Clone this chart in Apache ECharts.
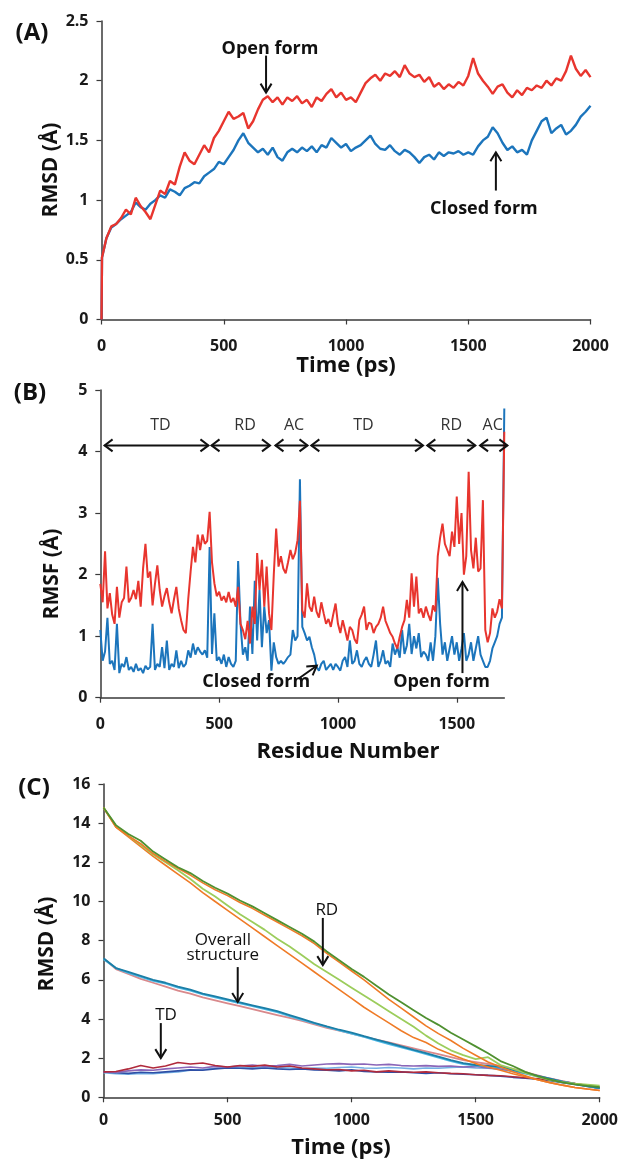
<!DOCTYPE html>
<html><head><meta charset="utf-8">
<script src="https://cdn.jsdelivr.net/npm/echarts@6/dist/echarts.min.js"></script>
<style>html,body{margin:0;padding:0;background:#fff}#c{width:621px;height:1163px}</style>
</head><body><div id="c"></div>
<script>
// ---------- Panel A: backbone RMSD vs time ----------
const timeA = [0, 2];
for (let t = 20; t <= 2000; t += 20) timeA.push(t);
const openA = [0, 0.52,
  0.68,0.78,0.80,0.85,0.92,0.88,1.02,0.95,0.90,0.84,
  0.96,1.08,1.05,1.16,1.13,1.28,1.40,1.33,1.30,1.38,
  1.46,1.40,1.52,1.58,1.66,1.74,1.68,1.70,1.73,1.60,
  1.66,1.76,1.84,1.87,1.82,1.86,1.80,1.86,1.83,1.87,
  1.81,1.84,1.78,1.86,1.83,1.89,1.93,1.86,1.90,1.84,
  1.86,1.82,1.90,1.98,2.02,2.05,2.00,2.06,2.04,2.08,
  2.03,2.13,2.06,2.03,2.05,1.99,2.03,1.95,1.98,1.93,
  1.97,1.94,1.99,1.96,2.04,2.19,2.06,2.00,1.95,1.89,
  1.95,1.97,1.90,1.86,1.92,1.88,1.94,1.92,1.96,1.94,
  2.00,1.96,2.02,2.00,2.08,2.21,2.10,2.04,2.09,2.03];
const closedA = [0, 0.52,
  0.68,0.77,0.80,0.84,0.87,0.90,0.98,0.94,0.92,0.97,
  1.00,1.04,1.02,1.09,1.07,1.04,1.10,1.12,1.15,1.14,
  1.20,1.23,1.26,1.32,1.30,1.36,1.42,1.50,1.56,1.48,
  1.44,1.40,1.43,1.38,1.44,1.36,1.33,1.40,1.43,1.40,
  1.44,1.41,1.45,1.40,1.46,1.44,1.52,1.48,1.44,1.47,
  1.41,1.44,1.46,1.50,1.54,1.47,1.43,1.42,1.46,1.41,
  1.38,1.42,1.40,1.36,1.31,1.36,1.38,1.34,1.40,1.37,
  1.40,1.39,1.41,1.38,1.40,1.38,1.45,1.50,1.53,1.61,
  1.56,1.48,1.42,1.45,1.40,1.42,1.38,1.50,1.58,1.66,
  1.69,1.56,1.60,1.63,1.55,1.58,1.63,1.70,1.74,1.79];

// ---------- Panel B: RMSF per residue ----------
const residues = [];
for (let r = 0; r <= 1700; r += 10) residues.push(r);
const openB = [
  1.85,1.55,2.38,1.45,1.70,1.35,1.20,1.80,1.30,1.55,
  1.62,2.13,1.55,1.62,1.75,1.60,1.90,1.48,2.10,2.50,
  1.95,2.05,1.50,1.85,2.15,1.75,1.48,1.65,1.78,1.55,
  1.37,1.60,1.80,1.45,1.26,1.10,1.05,1.60,2.05,2.45,
  2.20,2.65,2.40,2.65,2.50,2.55,3.02,2.20,1.86,1.65,
  1.72,1.58,1.65,1.55,1.72,1.55,1.62,1.48,1.80,1.20,
  1.10,0.95,1.25,0.88,1.48,1.20,2.35,1.75,2.24,1.48,
  2.13,1.37,1.10,2.00,2.75,2.13,2.30,2.10,2.02,2.20,
  2.40,2.25,2.35,2.56,3.20,1.42,1.30,1.86,1.48,1.40,
  1.64,1.40,1.30,1.55,1.37,1.20,1.28,1.15,1.35,1.53,
  1.20,1.05,1.26,1.10,0.93,1.15,1.10,0.95,0.88,1.26,
  1.35,1.48,1.10,1.22,1.20,1.05,1.15,1.20,1.30,1.48,
  1.25,1.15,1.05,0.99,0.88,0.80,0.99,1.15,1.26,1.59,
  1.30,2.02,1.48,1.97,1.37,1.45,1.30,1.48,1.35,1.25,
  1.50,1.40,2.30,2.60,2.83,2.50,2.40,2.30,2.70,2.45,
  3.27,2.50,3.00,2.00,2.30,3.67,2.40,2.10,2.60,2.05,
  2.10,3.21,1.10,0.90,1.05,1.45,1.30,1.40,1.60,1.45,
  4.32];
const closedB = [
  1.10,0.60,0.75,1.30,0.55,0.60,0.45,1.20,0.40,0.55,
  0.50,0.66,0.45,0.50,0.42,0.55,0.44,0.48,0.40,0.52,
  0.46,0.50,1.20,0.45,0.55,0.50,0.82,0.48,0.93,0.45,
  0.55,0.50,0.77,0.48,0.60,0.50,0.55,0.77,0.65,0.88,
  0.70,0.82,0.75,0.70,0.77,0.65,2.45,0.71,1.37,0.60,
  0.66,0.55,0.70,0.50,0.66,0.55,0.50,0.60,2.22,1.20,
  0.70,0.82,0.60,1.48,0.71,1.90,0.93,1.75,0.82,1.48,
  1.05,1.26,0.44,0.90,0.66,0.55,0.60,0.55,0.60,0.66,
  0.70,1.10,0.93,1.00,3.55,1.15,1.05,0.93,0.99,0.82,
  0.70,0.50,0.44,0.55,0.60,0.45,0.50,0.55,0.45,0.55,
  0.50,0.44,0.60,0.66,0.50,0.93,0.55,0.60,0.77,0.55,
  0.50,0.60,0.66,0.55,0.50,0.70,0.93,0.50,0.60,0.77,
  0.55,0.60,0.50,0.88,0.70,0.82,0.65,1.10,0.71,0.85,
  1.20,0.71,1.00,0.80,1.05,0.66,0.75,0.70,0.60,0.90,
  0.60,1.00,1.95,1.20,0.70,0.90,0.60,0.80,1.00,0.70,
  0.90,0.60,0.80,1.05,0.60,0.70,0.90,0.60,0.80,1.00,
  0.70,0.60,0.50,0.50,0.60,0.80,0.90,1.00,1.20,1.30,
  4.70];
const domainSpans = [[18,455],[468,714],[737,872],[888,1358],[1376,1578],[1598,1713]];
const domainNames = ['TD','RD','AC','TD','RD','AC'];
const domainLabelX = [253,609,815,1107,1477,1651];

// ---------- Panel C: targeted MD RMSD vs time ----------
const timeC = [];
for (let t = 0; t <= 2000; t += 50) timeC.push(t);
const rdDarkGreen = [14.8,13.9,13.45,13.1,12.55,12.15,11.75,11.45,11.05,10.7,
  10.4,10.05,9.75,9.4,9.05,8.7,8.35,7.95,7.45,7.0,
  6.55,6.15,5.7,5.25,4.85,4.45,4.05,3.7,3.3,2.95,
  2.6,2.25,1.85,1.6,1.3,1.08,0.9,0.76,0.66,0.58,0.52];
const rdOrangeUpper = [14.8,13.8,13.35,12.95,12.45,12.05,11.7,11.35,10.95,10.6,
  10.3,9.95,9.65,9.3,8.95,8.6,8.25,7.85,7.35,6.9,
  6.45,6.0,5.5,5.0,4.55,4.1,3.65,3.25,2.9,2.5,
  2.15,1.8,1.55,1.3,1.1,0.9,0.75,0.62,0.5,0.42,0.35];
const rdLightGreen = [14.8,13.85,13.35,12.9,12.4,12.0,11.6,11.15,10.65,10.25,
  9.8,9.35,8.95,8.55,8.1,7.7,7.25,6.8,6.4,6.0,
  5.6,5.2,4.8,4.4,4.0,3.6,3.15,2.75,2.4,2.15,
  1.95,2.05,1.65,1.45,1.25,1.05,0.88,0.78,0.7,0.65,0.6];
const rdOrangeLower = [14.8,13.8,13.3,12.8,12.3,11.85,11.4,10.95,10.45,10.0,
  9.55,9.1,8.65,8.2,7.75,7.3,6.85,6.4,5.95,5.5,
  5.05,4.6,4.2,3.8,3.4,3.05,2.8,2.45,2.2,1.95,
  1.72,1.55,1.38,1.2,1.05,0.9,0.75,0.62,0.5,0.42,0.35];
const ovTeal = [7.1,6.6,6.4,6.2,6.0,5.85,5.65,5.5,5.3,5.15,
  5.0,4.85,4.7,4.55,4.4,4.2,4.0,3.8,3.62,3.45,
  3.3,3.12,2.95,2.78,2.6,2.42,2.25,2.08,1.9,1.75,
  1.65,1.6,1.55,1.4,1.25,1.1,0.95,0.8,0.68,0.57,0.47];
const ovCyan = [7.05,6.6,6.35,6.15,5.95,5.8,5.6,5.45,5.25,5.1,
  4.95,4.8,4.65,4.5,4.35,4.15,3.95,3.78,3.6,3.42,
  3.25,3.08,2.9,2.72,2.55,2.38,2.2,2.02,1.85,1.7,
  1.62,1.58,1.52,1.38,1.22,1.08,0.93,0.8,0.68,0.57,0.47];
const ovPink = [7.1,6.55,6.3,6.05,5.85,5.65,5.45,5.3,5.1,4.95,
  4.8,4.65,4.5,4.35,4.2,4.05,3.9,3.72,3.55,3.4,
  3.25,3.1,2.95,2.8,2.65,2.5,2.35,2.2,2.05,1.9,
  1.8,1.7,1.6,1.45,1.28,1.12,0.96,0.82,0.7,0.58,0.48];
const tdRed = [1.3,1.32,1.45,1.62,1.5,1.6,1.78,1.7,1.75,1.62,
  1.55,1.62,1.58,1.65,1.55,1.6,1.5,1.45,1.4,1.42,
  1.35,1.38,1.3,1.35,1.3,1.28,1.3,1.25,1.22,1.2,
  1.15,1.12,1.1,1.05,1.0,0.95,0.88,0.8,0.7,0.6,0.5];
const tdViolet = [1.3,1.28,1.35,1.4,1.38,1.45,1.5,1.55,1.5,1.58,
  1.55,1.6,1.65,1.58,1.62,1.68,1.6,1.65,1.7,1.72,
  1.68,1.7,1.65,1.68,1.62,1.6,1.62,1.58,1.6,1.55,
  1.58,1.5,1.45,1.35,1.25,1.1,0.95,0.82,0.7,0.6,0.5];
const tdBlue = [1.3,1.25,1.22,1.28,1.25,1.3,1.35,1.4,1.38,1.45,
  1.5,1.48,1.45,1.5,1.45,1.42,1.45,1.4,1.38,1.35,
  1.4,1.32,1.3,1.28,1.3,1.25,1.22,1.25,1.2,1.18,
  1.15,1.12,1.08,1.02,0.98,0.92,0.85,0.75,0.65,0.55,0.45];
const tdLight = [1.25,1.2,1.18,1.22,1.2,1.25,1.3,1.38,1.42,1.48,
  1.52,1.5,1.55,1.48,1.52,1.5,1.45,1.5,1.48,1.52,
  1.55,1.5,1.48,1.52,1.5,1.45,1.5,1.48,1.52,1.55,
  1.5,1.48,1.42,1.32,1.2,1.05,0.92,0.8,0.68,0.58,0.48];

// ---------- annotations (data units) ----------
const annTexts = [
  {g:0, x:689, y:2.27, t:'Open form', w:'bold', s:18},
  {g:0, x:1564, y:0.93, t:'Closed form', w:'bold', s:18},
  {g:1, x:656, y:0.26, t:'Closed form', w:'bold', s:18},
  {g:1, x:1436, y:0.26, t:'Open form', w:'bold', s:18},
  {g:2, x:900, y:9.57, t:'RD', w:'normal', s:17},
  {g:2, x:481, y:8.03, t:'Overall', w:'normal', s:17},
  {g:2, x:481, y:7.26, t:'structure', w:'normal', s:17},
  {g:2, x:252, y:4.2, t:'TD', w:'normal', s:17}
];
const annArrows = [
  {g:0, from:[673,2.21], to:[673,1.90]},
  {g:0, from:[1613,1.08], to:[1613,1.40]},
  {g:1, from:[838,0.32], to:[911,0.52]},
  {g:1, from:[1524,0.40], to:[1524,1.88]},
  {g:2, from:[884,9.16], to:[884,6.75]},
  {g:2, from:[541,6.65], to:[541,4.87]},
  {g:2, from:[231,3.79], to:[231,2.0]}
];

const FONT = 'Open Sans';
const AX = '#3a3a3a';
const plain = v => String(v);
function xAx(g, max, interval, custom) {
  const o = {type:'value', gridIndex:g, min:0, max:max, interval:interval,
    axisLine:{lineStyle:{color:AX, width:1.5}},
    axisTick:{show:true, length:5, lineStyle:{color:AX, width:1.2}},
    splitLine:{show:false},
    axisLabel:{formatter:plain, color:'#1a1a1a', fontFamily:FONT, fontWeight:'bold', fontSize:16, margin:g===2?15:19}};
  if (custom) { o.axisLabel.customValues = custom; o.axisTick.customValues = custom; }
  return o;
}
function yAx(g, max, interval) {
  return {type:'value', gridIndex:g, min:0, max:max, interval:interval,
    axisLine:{show:true, lineStyle:{color:AX, width:1.5}},
    axisTick:{show:true, length:5, lineStyle:{color:AX, width:1.2}},
    splitLine:{show:false},
    axisLabel:{formatter:plain, color:'#1a1a1a', fontFamily:FONT, fontWeight:'bold', fontSize:16, margin:13}};
}
function ser(g, xs, ys, color, width) {
  return {type:'line', xAxisIndex:g, yAxisIndex:g, data: xs.map((x,i)=>[x, ys[i]]),
    showSymbol:false, symbol:'none', lineStyle:{color:color, width:width}, itemStyle:{color:color},
    animation:false, silent:true};
}

const chart = echarts.init(document.getElementById('c'), null, {renderer:'canvas'});
const option = {
  backgroundColor:'#ffffff',
  animation:false,
  grid:[
    {left:101.5, top:21, width:489, height:298.5},
    {left:100.3, top:390, width:404, height:307.7},
    {left:103.5, top:784, width:497, height:313.3}
  ],
  xAxis:[xAx(0,2000,500), xAx(1,1700,500,[0,500,1000,1500]), xAx(2,2000,500)],
  yAxis:[yAx(0,2.5,0.5), yAx(1,5,1), yAx(2,16,2)],
  series:[
    ser(0, timeA, closedA, '#1c75bc', 2.4),
    ser(0, timeA, openA, '#e8352e', 2.4),
    ser(1, residues, closedB, '#1c75bc', 2),
    ser(1, residues, openB, '#e8352e', 2),
    ser(2, timeC, tdLight, '#74b0e4', 1.6),
    ser(2, timeC, tdBlue, '#2e4fa6', 1.6),
    ser(2, timeC, tdViolet, '#8a66b8', 1.6),
    ser(2, timeC, tdRed, '#b02a3c', 1.6),
    ser(2, timeC, ovPink, '#d9898c', 1.8),
    ser(2, timeC, ovCyan, '#4cb8e6', 1.8),
    ser(2, timeC, ovTeal, '#1b7ea6', 1.8),
    ser(2, timeC, rdOrangeLower, '#ef7b27', 1.6),
    ser(2, timeC, rdLightGreen, '#9ccd5c', 1.8),
    ser(2, timeC, rdOrangeUpper, '#ef7b27', 1.6),
    ser(2, timeC, rdDarkGreen, '#4f9030', 1.8)
  ]
};
chart.setOption(option);

function P(g, x, y) { return chart.convertToPixel({gridIndex:g}, [x, y]); }
function head(tip, from, len, half) {
  const dx = tip[0]-from[0], dy = tip[1]-from[1];
  const L = Math.hypot(dx, dy) || 1; const ux = dx/L, uy = dy/L; const nx = -uy, ny = ux;
  return [[tip[0]-ux*len+nx*half, tip[1]-uy*len+ny*half], tip, [tip[0]-ux*len-nx*half, tip[1]-uy*len-ny*half]];
}
const gr = [];
function txt(x, y, t, size, weight, color, rot, align) {
  gr.push({type:'text', x:x, y:y, rotation:rot||0, z:100,
    style:{text:t, fill:color||'#111', fontFamily:FONT, fontSize:size, fontWeight:weight,
      align:align||'center', verticalAlign:'middle'}});
}
annTexts.forEach(a => { const p = P(a.g, a.x, a.y); txt(p[0], p[1], a.t, a.s, a.w, '#111'); });
annArrows.forEach(a => {
  const p1 = P(a.g, a.from[0], a.from[1]); const p2 = P(a.g, a.to[0], a.to[1]);
  gr.push({type:'line', z:100, shape:{x1:p1[0], y1:p1[1], x2:p2[0], y2:p2[1]}, style:{stroke:'#111', lineWidth:2}});
  gr.push({type:'polyline', z:100, shape:{points:head(p2, p1, 9, 5.5)}, style:{stroke:'#111', lineWidth:2, fill:null}});
});
domainSpans.forEach((sp, i) => {
  const a = P(1, sp[0], 4.1), b = P(1, sp[1], 4.1);
  gr.push({type:'line', z:100, shape:{x1:a[0], y1:a[1], x2:b[0], y2:b[1]}, style:{stroke:'#111', lineWidth:2}});
  gr.push({type:'polyline', z:100, shape:{points:head(a, b, 8, 6)}, style:{stroke:'#111', lineWidth:2, fill:null}});
  gr.push({type:'polyline', z:100, shape:{points:head(b, a, 8, 6)}, style:{stroke:'#111', lineWidth:2, fill:null}});
  const l = P(1, domainLabelX[i], 4.42);
  txt(l[0], l[1], domainNames[i], 16, 'normal', '#333');
});
// panel letters and axis titles
txt(32, 33, '(A)', 24, 'bold', '#111');
txt(30, 393, '(B)', 24, 'bold', '#111');
txt(34, 788, '(C)', 24, 'bold', '#111');
txt(346, 366, 'Time (ps)', 22, 'bold', '#111');
txt(348, 752, 'Residue Number', 22, 'bold', '#111');
txt(341, 1148, 'Time (ps)', 22, 'bold', '#111');
txt(51, 170, 'RMSD (Å)', 21, 'bold', '#111', Math.PI/2);
txt(52, 574, 'RMSF (Å)', 21, 'bold', '#111', Math.PI/2);
txt(47, 944, 'RMSD (Å)', 21, 'bold', '#111', Math.PI/2);
chart.setOption({graphic: gr});
</script></body></html>
